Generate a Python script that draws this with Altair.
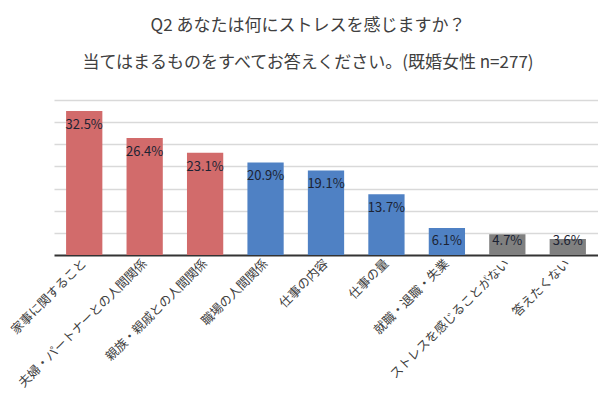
import altair as alt
import pandas as pd

categories = ["家事に関すること", "夫婦・パートナーとの人間関係", "親族・親戚との人間関係",
              "職場の人間関係", "仕事の内容", "仕事の量", "就職・退職・失業",
              "ストレスを感じることがない", "答えたくない"]
values = [32.5, 26.4, 23.1, 20.9, 19.1, 13.7, 6.1, 4.7, 3.6]
groups = ["家庭", "家庭", "家庭", "仕事", "仕事", "仕事", "仕事", "その他", "その他"]
labels = ["32.5%", "26.4%", "23.1%", "20.9%", "19.1%", "13.7%", "6.1%", "4.7%", "3.6%"]

df = pd.DataFrame({"cat": categories, "v": values, "g": groups, "lab": labels})

FONT = "Noto Sans CJK JP"

xaxis = alt.Axis(labelAngle=-45, labelAlign="right", labelBaseline="middle",
                 labelFontSize=12.5, labelColor="#404040", labelFont=FONT,
                 labelPadding=6, ticks=False, domainColor="#333333",
                 domainWidth=2, labelLimit=300)
xscale = alt.Scale(paddingInner=0.4, paddingOuter=0.2)
yaxis = alt.Axis(values=[5, 10, 15, 20, 25, 30, 35], labels=False, ticks=False,
                 domain=False, grid=True, gridColor="#D9D9D9", gridWidth=1.5)
yscale = alt.Scale(domain=[0, 35], nice=False)

bars = alt.Chart(df).mark_bar().encode(
    x=alt.X("cat:N", sort=categories, title=None, scale=xscale, axis=xaxis),
    y=alt.Y("v:Q", title=None, scale=yscale, axis=yaxis),
    color=alt.Color("g:N", scale=alt.Scale(domain=["家庭", "仕事", "その他"],
                                           range=["#D26B6B", "#4F81C4", "#808080"]),
                    legend=None),
)

text = alt.Chart(df).transform_calculate(
    ly="max(datum.v, 6.3)"
).mark_text(baseline="middle", dy=14, fontSize=13, font=FONT, color="#1C2333").encode(
    x=alt.X("cat:N", sort=categories, title=None, scale=xscale, axis=xaxis),
    y=alt.Y("ly:Q", title=None, scale=yscale, axis=yaxis),
    text="lab:N",
)

chart = (bars + text).properties(
    width=544, height=155, background="white",
    padding={"left": 0, "top": 9, "right": 0, "bottom": 0},
    title=alt.TitleParams(
        text=["Q2 あなたは何にストレスを感じますか？",
              "当てはまるものをすべてお答えください。(既婚女性 n=277)"],
        font=FONT, fontSize=17, fontWeight="normal", color="#404040",
        lineHeight=37, anchor="middle", dx=-18, offset=28),
).configure_view(stroke=None)

chart.save("out.html", embed_options={"renderer": "svg", "actions": False})
